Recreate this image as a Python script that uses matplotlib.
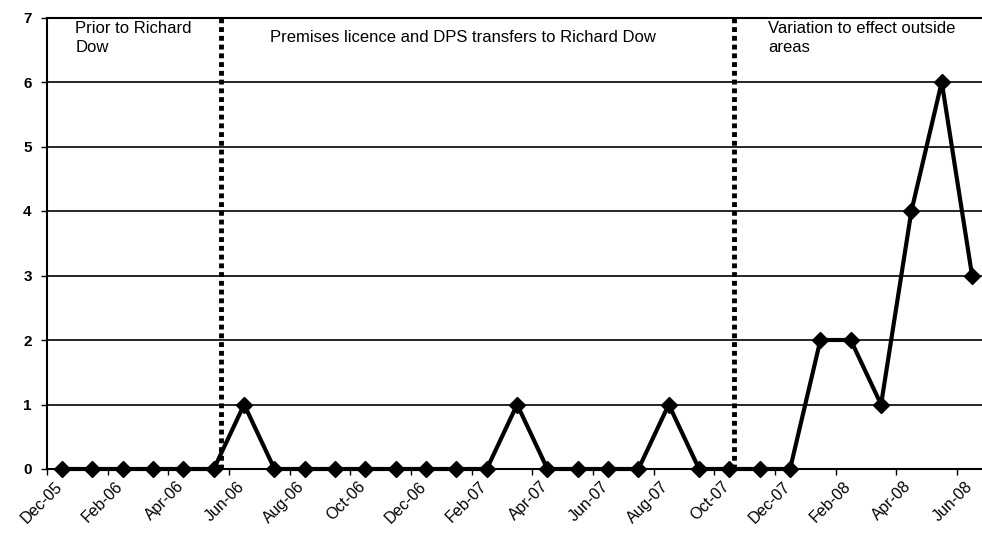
import numpy as np
import matplotlib
matplotlib.use('Agg')
import matplotlib.pyplot as plt

plt.rcParams['font.family'] = ['Liberation Sans', 'DejaVu Sans']

# monthly counts, Dec-05 .. Jun-08
months = ['Dec-05', 'Jan-06', 'Feb-06', 'Mar-06', 'Apr-06', 'May-06', 'Jun-06',
          'Jul-06', 'Aug-06', 'Sep-06', 'Oct-06', 'Nov-06', 'Dec-06',
          'Jan-07', 'Feb-07', 'Mar-07', 'Apr-07', 'May-07', 'Jun-07',
          'Jul-07', 'Aug-07', 'Sep-07', 'Oct-07', 'Nov-07', 'Dec-07',
          'Jan-08', 'Feb-08', 'Mar-08', 'Apr-08', 'May-08', 'Jun-08']
counts = [0, 0, 0, 0, 0, 0, 1,
          0, 0, 0, 0, 0, 0,
          0, 0, 1, 0, 0, 0,
          0, 1, 0, 0, 0, 0,
          2, 2, 1, 4, 6, 3]

# period boundaries (in month index) and their captions
boundaries = [5.25, 22.15]
captions = ['Prior to Richard\nDow',
            'Premises licence and DPS transfers to Richard Dow',
            'Variation to effect outside\nareas']
caption_x = [0.43, 6.86, 23.28]
caption_y = [6.94, 6.80, 6.94]

fig = plt.figure(figsize=(9.82, 5.38), dpi=100)
ax = fig.add_axes([47/982, 69/538, 935/982, 451.5/538])

x = np.arange(len(months))
ax.plot(x, counts, color='black', lw=3, marker='D', ms=8, zorder=3, clip_on=False)

ax.set_xlim(-0.5, -0.5 + 935/30.33)
ax.set_ylim(0, 7)
ax.set_yticks(range(8))
ax.set_yticklabels([str(i) for i in range(8)], fontsize=11, fontweight='bold')
ax.yaxis.grid(True, color='black', lw=1.2)
ax.set_axisbelow(True)

# labels every second month (set a little left of the point), tick marks on category boundaries
ax.set_xticks(x[::2] - 0.25)
ax.set_xticklabels(months[::2], rotation=45, ha='right', va='top',
                   rotation_mode='anchor', fontsize=11.5)
ax.tick_params(axis='x', which='major', length=0, pad=7)
ax.set_xticks(np.arange(-0.5, 31, 2), minor=True)
ax.tick_params(axis='x', which='minor', length=4, width=1, direction='out')
ax.tick_params(axis='y', length=4, width=1, direction='out', pad=7)

ax.spines['right'].set_visible(False)
for s in ['left', 'bottom', 'top']:
    ax.spines[s].set_linewidth(1.5)

for b in boundaries:
    ax.axvline(b, color='black', lw=3.5, ls=(0, (1, 0.8)), zorder=2)

for cx, cy, txt in zip(caption_x, caption_y, captions):
    ax.text(cx, cy, txt, ha='left', va='top', fontsize=12, linespacing=1.3)

fig.savefig('out.png', dpi=100)
